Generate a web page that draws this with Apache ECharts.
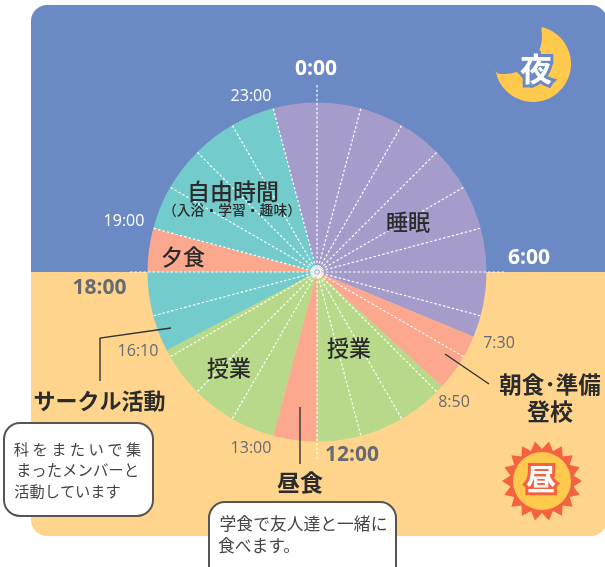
<!DOCTYPE html>
<html>
<head>
<meta charset="utf-8">
<style>
html, body { margin: 0; padding: 0; background: #fff; }
#chart { width: 605px; height: 567px; }
</style>
<script src="https://cdn.jsdelivr.net/npm/echarts@6/dist/echarts.min.js"></script>
</head>
<body>
<div id="chart"></div>
<script>
// one day in minutes, clockwise from 0:00
var activities = ['睡眠', '朝食・準備・登校', '授業', '昼食', '授業', 'サークル活動', '夕食', '自由時間', '睡眠'];
var minutes = [450, 80, 190, 60, 190, 110, 60, 240, 60];
var colors = ['#a59ccb', '#fca88f', '#b8d98a', '#fca88f', '#b8d98a', '#74cbcc', '#fca88f', '#74cbcc', '#a59ccb'];

// 13:00 has no spoke in the original
var hours = [0, 1, 2, 3, 4, 5, 6, 7, 8, 9, 10, 11, 12, 14, 15, 16, 17, 18, 19, 20, 21, 22, 23];
var longHours = [0, 6, 12, 18];

var JP = '"Noto Sans CJK JP"';
var EN = '"Open Sans"';
var GRAY = '#666a72';
var DARK = '#2b2b2b';

function txt(x, y, text, size, fill, weight, family, stroke) {
    return {
        type: 'text', z: 100, silent: true,
        x: x, y: y,
        style: {
            text: text,
            fill: fill,
            stroke: stroke || null,
            lineWidth: stroke ? 6 : 0,
            lineJoin: 'round',
            font: (weight || 'normal') + ' ' + size + 'px ' + (family || JP),
            align: 'center',
            verticalAlign: 'middle'
        }
    };
}

function leader(points) {
    return {
        type: 'polyline', z: 90, silent: true,
        shape: { points: points },
        style: { stroke: '#333', lineWidth: 1.4, fill: null }
    };
}

function callout(x, y, w, h) {
    return {
        type: 'rect', z: 95, silent: true,
        shape: { x: x, y: y, width: w, height: h, r: 16 },
        style: { fill: '#fff', stroke: '#555', lineWidth: 2 }
    };
}

function sunSpikes(cx, cy, n, outer, inner) {
    var pts = [];
    for (var i = 0; i < n * 2; i++) {
        var r = i % 2 ? inner : outer;
        var a = Math.PI * i / n;
        pts.push([cx + r * Math.cos(a), cy + r * Math.sin(a)]);
    }
    return pts;
}

// crescent: outer arc of one circle, back along the arc of a cutting circle
function moonPoints() {
    var pts = [], i, a;
    for (i = 0; i <= 40; i++) {
        a = (-77 + i * (247 / 40)) * Math.PI / 180;
        pts.push([533 + 38 * Math.cos(a), 64 + 38 * Math.sin(a)]);
    }
    for (i = 0; i <= 20; i++) {
        a = (100 - i * (110 / 20)) * Math.PI / 180;
        pts.push([504 + 38 * Math.cos(a), 36 + 38 * Math.sin(a)]);
    }
    return pts;
}

var graphics = [
    // background
    { type: 'rect', z: -10, silent: true, shape: { x: 31, y: 5, width: 576, height: 267, r: [16, 16, 0, 0] }, style: { fill: '#6b89c4' } },
    { type: 'rect', z: -10, silent: true, shape: { x: 31, y: 272, width: 576, height: 264, r: [0, 0, 16, 16] }, style: { fill: '#ffd58e' } },

    // moon
    { type: 'polygon', z: 50, silent: true, shape: { points: moonPoints() }, style: { fill: '#ffc94d' } },
    txt(536, 69, '夜', 32, '#6b89c4', 'bold', JP, '#6b89c4'),
    txt(536, 69, '夜', 32, '#fff', 'bold'),

    // sun
    { type: 'polygon', z: 50, silent: true, shape: { points: sunSpikes(542, 481, 18, 40, 32) }, style: { fill: '#f4623f' } },
    { type: 'circle', z: 51, silent: true, shape: { cx: 542, cy: 481, r: 29 }, style: { fill: '#ffc94d' } },
    txt(541, 479, '昼', 30, '#f4623f', 'bold', JP, '#f4623f'),
    txt(541, 479, '昼', 30, '#fff', 'bold'),

    // centre pin
    { type: 'circle', z: 60, silent: true, shape: { cx: 317, cy: 272, r: 4.5 }, style: { fill: '#fff', opacity: 0.9 } },
    { type: 'circle', z: 61, silent: true, shape: { cx: 317, cy: 272, r: 2.8 }, style: { fill: '#a5a9c8' } },
    { type: 'circle', z: 62, silent: true, shape: { cx: 317, cy: 272, r: 1.8 }, style: { fill: '#fff' } },

    // clock labels
    txt(316, 69, '0:00', 21, '#fff', 'bold', EN),
    txt(251, 96, '23:00', 16, '#fff', '500', EN),
    txt(124, 221, '19:00', 16, '#fff', '500', EN),
    txt(529, 258, '6:00', 21, '#fff', 'bold', EN),
    txt(99.5, 288, '18:00', 21, GRAY, 'bold', EN),
    txt(499, 343, '7:30', 16, GRAY, '500', EN),
    txt(454, 402, '8:50', 16, GRAY, '500', EN),
    txt(138, 351, '16:10', 16, GRAY, '500', EN),
    txt(251, 448, '13:00', 16, GRAY, '500', EN),
    txt(352, 455, '12:00', 21, GRAY, 'bold', EN),

    // activity names
    txt(233, 191, '自由時間', 23, DARK, '500'),
    txt(232, 210, '（入浴・学習・趣味）', 13.8, DARK, '500'),
    txt(183, 257, '夕食', 22, DARK, '500'),
    txt(408, 222, '睡眠', 22, DARK, '500'),
    txt(229, 368, '授業', 22, DARK, '500'),
    txt(349, 348, '授業', 22, DARK, '500'),
    txt(300, 482, '昼食', 23, DARK, 'bold'),
    txt(99.5, 401, 'サークル活動', 22, DARK, 'bold'),
    txt(550, 384, '朝食･準備', 22.5, DARK, 'bold'),
    txt(550, 411, '登校', 23, DARK, 'bold'),

    // leaders
    leader([[171, 328], [100, 338], [100, 381]]),
    leader([[445, 354], [489, 384]]),
    leader([[300, 407], [300, 464]]),

    // notes
    callout(4, 423, 149, 93),
    txt(77.5, 449, '科 を ま た い で 集', 15.3, '#444'),
    txt(77.5, 470, 'まったメンバーと', 15.4, '#444'),
    txt(67.5, 491, '活動しています', 15.2, '#444'),
    callout(209, 502, 187, 80),
    txt(303.5, 524, '学食で友人達と一緒に', 16.8, '#444'),
    txt(259, 546, '食べます。', 16.8, '#444')
];

var series = [{
    type: 'pie',
    z: 2,
    center: [317, 272],
    radius: [0, 169.5],
    startAngle: 90,
    silent: true,
    animation: false,
    label: { show: false },
    labelLine: { show: false },
    data: activities.map(function (name, i) {
        return { name: name, value: minutes[i], itemStyle: { color: colors[i] } };
    })
}];

// dashed hour spokes, the four quarter hours run past the rim
hours.forEach(function (h) {
    series.push({
        type: 'line',
        z: 3,
        coordinateSystem: 'polar',
        silent: true,
        animation: false,
        symbol: 'none',
        lineStyle: { color: '#fff', width: 1.2, type: [2.5, 2] },
        data: [[0, h], [longHours.indexOf(h) >= 0 ? 1.1 : 1, h]]
    });
});

var myChart = echarts.init(document.getElementById('chart'));
myChart.setOption({
    animation: false,
    polar: { center: [317, 272], radius: 187 },
    angleAxis: { type: 'value', min: 0, max: 24, startAngle: 90, show: false },
    radiusAxis: { type: 'value', min: 0, max: 1.1, show: false },
    graphic: { elements: graphics },
    series: series
});
</script>
</body>
</html>
